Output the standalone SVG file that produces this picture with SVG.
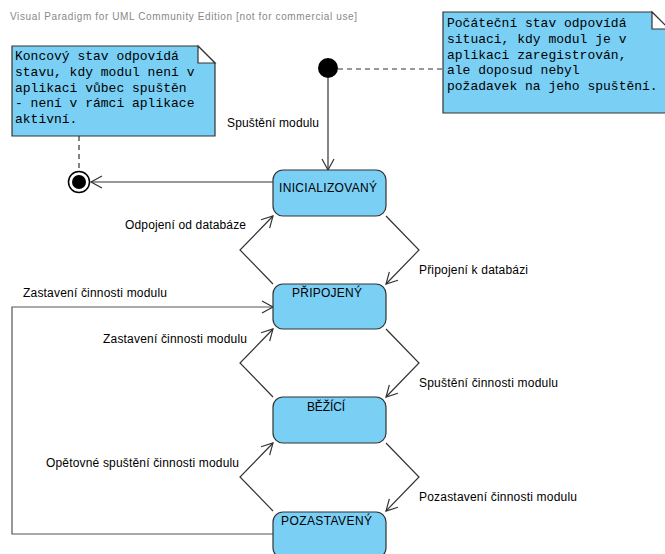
<svg xmlns="http://www.w3.org/2000/svg" width="665" height="554" viewBox="0 0 665 554">
<style>
.state{fill:#7acff5;stroke:#333;stroke-width:1.2}
.note{fill:#7acff5;stroke:#333;stroke-width:1.2}
.fold{fill:#fff;stroke:#333;stroke-width:1.2}
.lbl{font-family:"Liberation Sans",Arial,sans-serif;font-size:12px;fill:#000}
.nt{font-family:"Liberation Mono","Courier New",monospace;font-size:13px;fill:#000}
.conn{fill:none;stroke:#333;stroke-width:1.2}
.dash{fill:none;stroke:#333;stroke-width:1.2;stroke-dasharray:5,4}
.wm{font-family:"Liberation Sans",Arial,sans-serif;font-size:10px;fill:#888}
</style>
<defs>
<marker id="arr" markerUnits="userSpaceOnUse" markerWidth="14" markerHeight="14" viewBox="-12 -7 14 14" refX="0" refY="0" orient="auto">
<path d="M-11,-6 L0,0 L-11,6" fill="none" stroke="#333" stroke-width="1.2"/>
</marker>
</defs>
<rect width="665" height="554" fill="#fff"/>
<text class="wm" x="10" y="20" textLength="347" lengthAdjust="spacing">Visual Paradigm for UML Community Edition [not for commercial use]</text>

<g id="connectors">
<line class="dash" x1="79" y1="136" x2="79" y2="171"/>
<line class="dash" x1="338" y1="69" x2="443" y2="69"/>
<line class="conn" x1="328" y1="78" x2="328" y2="170" marker-end="url(#arr)"/>
<line class="conn" x1="273" y1="182" x2="91" y2="182" marker-end="url(#arr)"/>
<polyline class="conn" points="386,216 419,250 386,284" marker-end="url(#arr)"/>
<polyline class="conn" points="273,284 240,250 273,216" marker-end="url(#arr)"/>
<polyline class="conn" points="386,329 419,363 386,397" marker-end="url(#arr)"/>
<polyline class="conn" points="273,397 240,363 273,329" marker-end="url(#arr)"/>
<polyline class="conn" points="386,443 419,477 386,511" marker-end="url(#arr)"/>
<polyline class="conn" points="273,511 240,477 273,443" marker-end="url(#arr)"/>
<polyline class="conn" points="273,534 12,534 12,307 273,307" marker-end="url(#arr)" style="stroke:#555"/>
<text class="lbl" x="227" y="127" textLength="92" lengthAdjust="spacing">Spuštění modulu</text>
<text class="lbl" x="125" y="229" textLength="121" lengthAdjust="spacing">Odpojení od databáze</text>
<text class="lbl" x="419" y="274" textLength="109" lengthAdjust="spacing">Připojení k databázi</text>
<text class="lbl" x="23" y="297" textLength="144" lengthAdjust="spacing">Zastavení činnosti modulu</text>
<text class="lbl" x="103" y="343" textLength="144" lengthAdjust="spacing">Zastavení činnosti modulu</text>
<text class="lbl" x="419" y="387" textLength="139" lengthAdjust="spacing">Spuštění činnosti modulu</text>
<text class="lbl" x="46" y="467" textLength="193" lengthAdjust="spacing">Opětovné spuštění činnosti modulu</text>
<text class="lbl" x="419" y="501" textLength="158" lengthAdjust="spacing">Pozastavení činnosti modulu</text>
</g>

<g id="note-final">
<path class="note" d="M12,46 H198 L215,63 V136 H12 Z"/>
<path class="fold" d="M198,46 V63 H215 Z"/>
<text class="nt" x="15" y="60">Koncový stav odpovídá</text>
<text class="nt" x="15" y="75.8">stavu, kdy modul není v</text>
<text class="nt" x="15" y="91.6">aplikaci vůbec spuštěn</text>
<text class="nt" x="15" y="107.4">- není v rámci aplikace</text>
<text class="nt" x="15" y="123.2">aktivní.</text>
</g>

<g id="note-initial">
<path class="note" d="M443,12 H652 L669,29 V113 H443 Z"/>
<path class="fold" d="M652,12 V29 H669 Z"/>
<text class="nt" x="447" y="27">Počáteční stav odpovídá</text>
<text class="nt" x="447" y="42.75">situaci, kdy modul je v</text>
<text class="nt" x="447" y="58.5">aplikaci zaregistrován,</text>
<text class="nt" x="447" y="74.25">ale doposud nebyl</text>
<text class="nt" x="447" y="90">požadavek na jeho spuštění.</text>
</g>

<g id="initial">
<circle cx="328" cy="68" r="10" fill="#000"/>
</g>

<g id="final">
<circle cx="79" cy="182" r="10.5" fill="#fff" stroke="#000" stroke-width="1.5"/>
<circle cx="79" cy="182" r="7" fill="#000"/>
</g>

<g id="inicializovany">
<rect class="state" x="273" y="170" width="113" height="46" rx="10"/>
<text class="lbl" x="328" y="192" text-anchor="middle" textLength="98" lengthAdjust="spacing">INICIALIZOVANÝ</text>
</g>
<g id="pripojeny">
<rect class="state" x="273" y="284" width="113" height="45" rx="10"/>
<text class="lbl" x="327" y="297" text-anchor="middle" textLength="70" lengthAdjust="spacing">PŘIPOJENÝ</text>
</g>
<g id="bezici">
<rect class="state" x="273" y="397" width="113" height="46" rx="10"/>
<text class="lbl" x="326" y="411" text-anchor="middle" textLength="38" lengthAdjust="spacing">BĚŽÍCÍ</text>
</g>
<g id="pozastaveny">
<rect class="state" x="273" y="512" width="113" height="46" rx="10"/>
<text class="lbl" x="326.5" y="525" text-anchor="middle" textLength="91" lengthAdjust="spacing">POZASTAVENÝ</text>
</g>
</svg>
